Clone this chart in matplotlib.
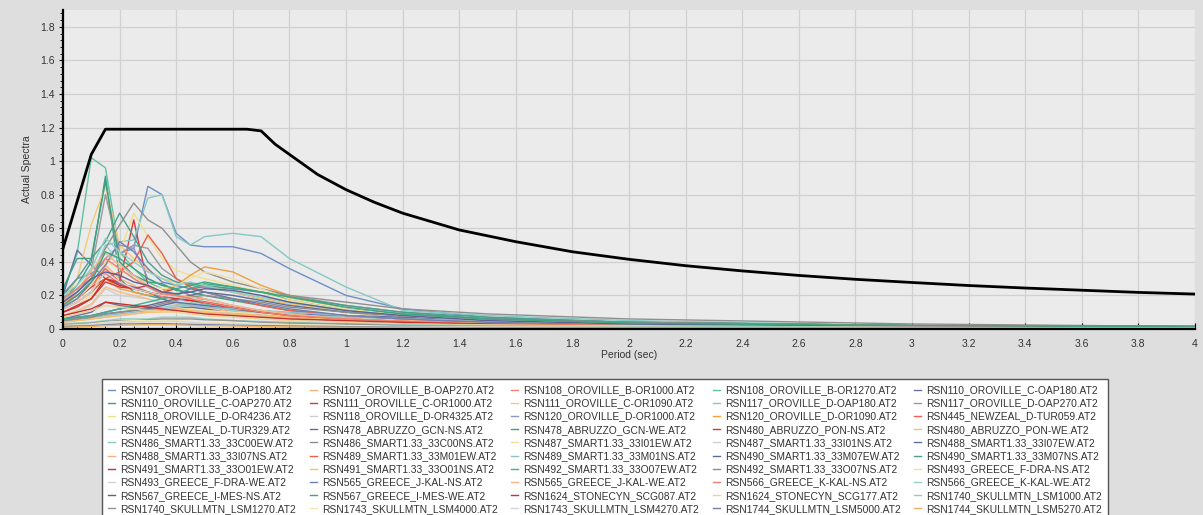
import numpy as np
import matplotlib
matplotlib.use('Agg')
import matplotlib.pyplot as plt
from matplotlib.ticker import MultipleLocator, FormatStrFormatter

plt.rcParams['font.family'] = ['Liberation Sans', 'DejaVu Sans']

# periods at which each record spectrum is listed (sec)
periods = [0, 0.05, 0.1, 0.15, 0.2, 0.25, 0.3, 0.35, 0.4, 0.45, 0.5,
           0.6, 0.7, 0.8, 1.0, 1.2, 1.5, 2.0, 3.0, 4.0]

# target (design) spectrum
target_T = [0, 0.1, 0.15, 0.2, 0.3, 0.4, 0.5, 0.6, 0.65, 0.7, 0.75, 0.8, 0.9,
            1.0, 1.1, 1.2, 1.4, 1.6, 1.8, 2.0, 2.2, 2.4, 2.6, 2.8, 3.0, 3.2,
            3.4, 3.6, 3.8, 4.0]
target_Sa = [0.48, 1.04, 1.19, 1.19, 1.19, 1.19, 1.19, 1.19, 1.19, 1.18, 1.10,
             1.04, 0.92, 0.83, 0.755, 0.69, 0.59, 0.52, 0.46, 0.415, 0.377,
             0.346, 0.319, 0.296, 0.277, 0.259, 0.244, 0.231, 0.218, 0.208]

records = [
    'RSN107_OROVILLE_B-OAP180.AT2', 'RSN107_OROVILLE_B-OAP270.AT2',
    'RSN108_OROVILLE_B-OR1000.AT2', 'RSN108_OROVILLE_B-OR1270.AT2',
    'RSN110_OROVILLE_C-OAP180.AT2', 'RSN110_OROVILLE_C-OAP270.AT2',
    'RSN111_OROVILLE_C-OR1000.AT2', 'RSN111_OROVILLE_C-OR1090.AT2',
    'RSN117_OROVILLE_D-OAP180.AT2', 'RSN117_OROVILLE_D-OAP270.AT2',
    'RSN118_OROVILLE_D-OR4236.AT2', 'RSN118_OROVILLE_D-OR4325.AT2',
    'RSN120_OROVILLE_D-OR1000.AT2', 'RSN120_OROVILLE_D-OR1090.AT2',
    'RSN445_NEWZEAL_D-TUR059.AT2', 'RSN445_NEWZEAL_D-TUR329.AT2',
    'RSN478_ABRUZZO_GCN-NS.AT2', 'RSN478_ABRUZZO_GCN-WE.AT2',
    'RSN480_ABRUZZO_PON-NS.AT2', 'RSN480_ABRUZZO_PON-WE.AT2',
    'RSN486_SMART1.33_33C00EW.AT2', 'RSN486_SMART1.33_33C00NS.AT2',
    'RSN487_SMART1.33_33I01EW.AT2', 'RSN487_SMART1.33_33I01NS.AT2',
    'RSN488_SMART1.33_33I07EW.AT2', 'RSN488_SMART1.33_33I07NS.AT2',
    'RSN489_SMART1.33_33M01EW.AT2', 'RSN489_SMART1.33_33M01NS.AT2',
    'RSN490_SMART1.33_33M07EW.AT2', 'RSN490_SMART1.33_33M07NS.AT2',
    'RSN491_SMART1.33_33O01EW.AT2', 'RSN491_SMART1.33_33O01NS.AT2',
    'RSN492_SMART1.33_33O07EW.AT2', 'RSN492_SMART1.33_33O07NS.AT2',
    'RSN493_GREECE_F-DRA-NS.AT2', 'RSN493_GREECE_F-DRA-WE.AT2',
    'RSN565_GREECE_J-KAL-NS.AT2', 'RSN565_GREECE_J-KAL-WE.AT2',
    'RSN566_GREECE_K-KAL-NS.AT2', 'RSN566_GREECE_K-KAL-WE.AT2',
    'RSN567_GREECE_I-MES-NS.AT2', 'RSN567_GREECE_I-MES-WE.AT2',
    'RSN1624_STONECYN_SCG087.AT2', 'RSN1624_STONECYN_SCG177.AT2',
    'RSN1740_SKULLMTN_LSM1000.AT2', 'RSN1740_SKULLMTN_LSM1270.AT2',
    'RSN1743_SKULLMTN_LSM4000.AT2', 'RSN1743_SKULLMTN_LSM4270.AT2',
    'RSN1744_SKULLMTN_LSM5000.AT2', 'RSN1744_SKULLMTN_LSM5270.AT2',
]

colors = [
    '#6f8fc8', '#f5b27a', '#ee7f74', '#63bfa6', '#6a72a6',
    '#3f9f8a', '#d9393a', '#f4c97a', '#86c9c4', '#9a9a9a',
    '#efe08e', '#cfcfcf', '#8c98cc', '#f0a03c', '#ef5f4e',
    '#9fd0cf', '#6e6fa0', '#3ea07f', '#cf3b3b', '#f4bf84',
    '#8ec8bf', '#8f8f8f', '#f1e2a2', '#d2d2d2', '#5f6fae',
    '#f5ae7e', '#ee5e45', '#8fbfcf', '#5e6a9c', '#4e9e8f',
    '#d02a2a', '#f4c070', '#3fb091', '#8e8e8e', '#f5dfa0',
    '#d3d3d3', '#7080b2', '#f6b683', '#ef8070', '#8fd0c6',
    '#5f5f92', '#3ea57f', '#c93131', '#f1d192', '#8ed1bf',
    '#959595', '#f3e6b0', '#d6d6d6', '#7382a4', '#efb260',
]

# spectral acceleration of each record (g), one row per record
spectra = [
    [0.21, 0.30, 0.33, 0.40, 0.45, 0.48, 0.85, 0.80, 0.57, 0.50, 0.49, 0.49, 0.45, 0.36, 0.20, 0.12, 0.07, 0.04, 0.02, 0.01],
    [0.12, 0.16, 0.22, 0.38, 0.30, 0.26, 0.22, 0.18, 0.16, 0.14, 0.12, 0.09, 0.07, 0.06, 0.04, 0.03, 0.02, 0.015, 0.01, 0.008],
    [0.15, 0.20, 0.26, 0.33, 0.27, 0.24, 0.22, 0.19, 0.18, 0.17, 0.15, 0.11, 0.09, 0.07, 0.05, 0.035, 0.025, 0.02, 0.01, 0.008],
    [0.22, 0.45, 1.02, 0.96, 0.46, 0.36, 0.28, 0.24, 0.20, 0.17, 0.15, 0.11, 0.09, 0.07, 0.05, 0.04, 0.03, 0.02, 0.01, 0.01],
    [0.20, 0.47, 0.38, 0.30, 0.27, 0.25, 0.22, 0.18, 0.15, 0.14, 0.13, 0.10, 0.08, 0.06, 0.045, 0.035, 0.025, 0.02, 0.01, 0.008],
    [0.18, 0.26, 0.40, 0.91, 0.30, 0.22, 0.20, 0.18, 0.20, 0.24, 0.25, 0.22, 0.18, 0.15, 0.10, 0.07, 0.05, 0.03, 0.02, 0.01],
    [0.14, 0.18, 0.25, 0.30, 0.28, 0.65, 0.26, 0.22, 0.24, 0.20, 0.17, 0.13, 0.10, 0.08, 0.06, 0.045, 0.03, 0.02, 0.01, 0.008],
    [0.16, 0.30, 0.62, 0.85, 0.50, 0.42, 0.35, 0.30, 0.28, 0.27, 0.26, 0.22, 0.18, 0.15, 0.10, 0.07, 0.05, 0.03, 0.02, 0.01],
    [0.16, 0.24, 0.30, 0.50, 0.52, 0.53, 0.78, 0.80, 0.55, 0.50, 0.55, 0.57, 0.55, 0.42, 0.25, 0.11, 0.08, 0.05, 0.02, 0.015],
    [0.14, 0.22, 0.35, 0.80, 0.45, 0.50, 0.48, 0.36, 0.30, 0.26, 0.25, 0.24, 0.22, 0.20, 0.14, 0.10, 0.06, 0.04, 0.02, 0.01],
    [0.10, 0.14, 0.20, 0.40, 0.45, 0.69, 0.55, 0.42, 0.35, 0.32, 0.30, 0.26, 0.22, 0.17, 0.11, 0.08, 0.05, 0.03, 0.015, 0.01],
    [0.08, 0.10, 0.14, 0.24, 0.20, 0.19, 0.18, 0.15, 0.14, 0.12, 0.11, 0.09, 0.07, 0.06, 0.04, 0.03, 0.02, 0.015, 0.01, 0.006],
    [0.16, 0.22, 0.30, 0.42, 0.50, 0.48, 0.30, 0.26, 0.24, 0.20, 0.18, 0.14, 0.11, 0.09, 0.06, 0.04, 0.03, 0.02, 0.01, 0.008],
    [0.12, 0.16, 0.22, 0.30, 0.24, 0.22, 0.20, 0.22, 0.26, 0.32, 0.37, 0.34, 0.26, 0.20, 0.12, 0.08, 0.05, 0.03, 0.015, 0.01],
    [0.15, 0.20, 0.26, 0.36, 0.28, 0.24, 0.22, 0.20, 0.18, 0.17, 0.16, 0.13, 0.11, 0.09, 0.06, 0.045, 0.03, 0.02, 0.01, 0.008],
    [0.12, 0.18, 0.30, 0.50, 0.40, 0.30, 0.25, 0.20, 0.18, 0.16, 0.14, 0.11, 0.09, 0.07, 0.05, 0.04, 0.03, 0.02, 0.01, 0.008],
    [0.06, 0.08, 0.10, 0.16, 0.14, 0.13, 0.12, 0.11, 0.12, 0.13, 0.12, 0.10, 0.08, 0.07, 0.05, 0.035, 0.025, 0.015, 0.01, 0.006],
    [0.24, 0.42, 0.42, 0.88, 0.40, 0.32, 0.28, 0.27, 0.23, 0.22, 0.20, 0.17, 0.14, 0.11, 0.08, 0.06, 0.04, 0.03, 0.015, 0.01],
    [0.10, 0.13, 0.18, 0.28, 0.25, 0.24, 0.26, 0.22, 0.20, 0.18, 0.16, 0.12, 0.10, 0.08, 0.06, 0.04, 0.03, 0.02, 0.01, 0.006],
    [0.08, 0.11, 0.15, 0.25, 0.22, 0.20, 0.18, 0.16, 0.15, 0.14, 0.13, 0.10, 0.08, 0.07, 0.05, 0.04, 0.03, 0.02, 0.01, 0.006],
    [0.05, 0.06, 0.07, 0.09, 0.10, 0.11, 0.12, 0.13, 0.14, 0.15, 0.14, 0.12, 0.10, 0.09, 0.07, 0.06, 0.045, 0.03, 0.02, 0.012],
    [0.18, 0.24, 0.30, 0.48, 0.62, 0.75, 0.65, 0.60, 0.50, 0.40, 0.34, 0.28, 0.24, 0.20, 0.16, 0.12, 0.09, 0.06, 0.03, 0.015],
    [0.04, 0.05, 0.06, 0.08, 0.09, 0.10, 0.11, 0.11, 0.12, 0.12, 0.11, 0.10, 0.09, 0.08, 0.06, 0.05, 0.04, 0.03, 0.02, 0.01],
    [0.05, 0.06, 0.07, 0.08, 0.10, 0.12, 0.13, 0.12, 0.11, 0.10, 0.09, 0.08, 0.07, 0.06, 0.05, 0.04, 0.035, 0.025, 0.015, 0.01],
    [0.05, 0.06, 0.07, 0.09, 0.10, 0.11, 0.12, 0.14, 0.16, 0.15, 0.14, 0.12, 0.10, 0.09, 0.08, 0.07, 0.05, 0.035, 0.02, 0.015],
    [0.04, 0.05, 0.06, 0.07, 0.08, 0.09, 0.10, 0.11, 0.12, 0.11, 0.10, 0.09, 0.08, 0.07, 0.06, 0.05, 0.04, 0.03, 0.02, 0.01],
    [0.12, 0.16, 0.22, 0.30, 0.34, 0.40, 0.56, 0.45, 0.30, 0.25, 0.22, 0.18, 0.14, 0.11, 0.08, 0.06, 0.04, 0.03, 0.015, 0.01],
    [0.05, 0.06, 0.07, 0.08, 0.09, 0.10, 0.11, 0.12, 0.13, 0.14, 0.13, 0.12, 0.11, 0.10, 0.08, 0.06, 0.05, 0.035, 0.02, 0.012],
    [0.06, 0.07, 0.08, 0.10, 0.12, 0.13, 0.14, 0.16, 0.18, 0.20, 0.22, 0.20, 0.17, 0.14, 0.10, 0.08, 0.06, 0.04, 0.02, 0.015],
    [0.20, 0.30, 0.42, 0.52, 0.69, 0.55, 0.40, 0.32, 0.28, 0.27, 0.26, 0.24, 0.22, 0.19, 0.14, 0.10, 0.07, 0.04, 0.02, 0.015],
    [0.10, 0.14, 0.18, 0.30, 0.26, 0.24, 0.22, 0.20, 0.18, 0.17, 0.16, 0.13, 0.10, 0.08, 0.06, 0.045, 0.03, 0.02, 0.01, 0.008],
    [0.04, 0.05, 0.06, 0.07, 0.08, 0.09, 0.10, 0.10, 0.11, 0.11, 0.10, 0.09, 0.08, 0.07, 0.05, 0.04, 0.035, 0.025, 0.015, 0.01],
    [0.06, 0.07, 0.08, 0.10, 0.12, 0.14, 0.16, 0.18, 0.20, 0.24, 0.27, 0.25, 0.22, 0.18, 0.12, 0.09, 0.06, 0.04, 0.02, 0.015],
    [0.05, 0.06, 0.07, 0.09, 0.10, 0.11, 0.13, 0.15, 0.17, 0.19, 0.20, 0.18, 0.16, 0.13, 0.10, 0.08, 0.06, 0.04, 0.02, 0.015],
    [0.14, 0.18, 0.26, 0.40, 0.36, 0.30, 0.26, 0.24, 0.26, 0.30, 0.34, 0.30, 0.24, 0.18, 0.12, 0.08, 0.05, 0.03, 0.015, 0.01],
    [0.12, 0.16, 0.22, 0.34, 0.28, 0.24, 0.22, 0.20, 0.19, 0.18, 0.17, 0.14, 0.11, 0.09, 0.06, 0.04, 0.03, 0.02, 0.01, 0.008],
    [0.13, 0.18, 0.28, 0.38, 0.52, 0.46, 0.36, 0.28, 0.26, 0.24, 0.22, 0.18, 0.15, 0.12, 0.08, 0.06, 0.04, 0.025, 0.015, 0.01],
    [0.15, 0.22, 0.35, 0.45, 0.38, 0.32, 0.26, 0.22, 0.20, 0.19, 0.18, 0.14, 0.11, 0.09, 0.06, 0.045, 0.03, 0.02, 0.01, 0.008],
    [0.18, 0.24, 0.32, 0.42, 0.36, 0.30, 0.25, 0.21, 0.20, 0.18, 0.16, 0.13, 0.10, 0.08, 0.06, 0.045, 0.03, 0.02, 0.01, 0.008],
    [0.20, 0.26, 0.36, 0.54, 0.46, 0.40, 0.34, 0.30, 0.26, 0.28, 0.26, 0.22, 0.19, 0.16, 0.11, 0.08, 0.05, 0.03, 0.015, 0.01],
    [0.16, 0.22, 0.30, 0.34, 0.32, 0.28, 0.26, 0.22, 0.21, 0.22, 0.24, 0.23, 0.20, 0.16, 0.11, 0.08, 0.05, 0.03, 0.015, 0.01],
    [0.14, 0.20, 0.28, 0.46, 0.42, 0.36, 0.30, 0.26, 0.24, 0.26, 0.28, 0.25, 0.22, 0.19, 0.13, 0.09, 0.06, 0.035, 0.02, 0.012],
    [0.08, 0.10, 0.12, 0.16, 0.15, 0.14, 0.13, 0.12, 0.11, 0.10, 0.09, 0.08, 0.07, 0.06, 0.05, 0.04, 0.03, 0.02, 0.01, 0.006],
    [0.07, 0.09, 0.11, 0.14, 0.13, 0.12, 0.11, 0.10, 0.10, 0.09, 0.08, 0.07, 0.06, 0.05, 0.04, 0.03, 0.025, 0.02, 0.01, 0.006],
    [0.03, 0.035, 0.04, 0.05, 0.06, 0.06, 0.06, 0.07, 0.07, 0.07, 0.06, 0.05, 0.045, 0.04, 0.03, 0.025, 0.02, 0.015, 0.01, 0.005],
    [0.025, 0.03, 0.035, 0.045, 0.05, 0.05, 0.055, 0.06, 0.06, 0.06, 0.055, 0.05, 0.04, 0.035, 0.03, 0.02, 0.015, 0.01, 0.007, 0.005],
    [0.02, 0.025, 0.03, 0.04, 0.045, 0.05, 0.05, 0.05, 0.05, 0.045, 0.04, 0.035, 0.03, 0.025, 0.02, 0.015, 0.012, 0.01, 0.006, 0.004],
    [0.02, 0.022, 0.025, 0.035, 0.04, 0.04, 0.045, 0.045, 0.045, 0.04, 0.035, 0.03, 0.025, 0.02, 0.015, 0.012, 0.01, 0.008, 0.005, 0.003],
    [0.015, 0.018, 0.02, 0.025, 0.03, 0.03, 0.032, 0.032, 0.03, 0.028, 0.026, 0.022, 0.02, 0.018, 0.014, 0.01, 0.008, 0.006, 0.004, 0.003],
    [0.01, 0.012, 0.015, 0.02, 0.022, 0.024, 0.025, 0.025, 0.024, 0.022, 0.02, 0.018, 0.015, 0.012, 0.01, 0.008, 0.006, 0.005, 0.004, 0.003],
]

fig = plt.figure(figsize=(12.03, 5.15), dpi=100, facecolor='#dedede')
ax = fig.add_axes([63 / 1203, 1 - 329 / 515, 1132 / 1203, 319 / 515])
ax.set_facecolor('#ebebeb')

handles = []
for name, col, sa in zip(records, colors, spectra):
    h, = ax.plot(periods, sa, color=col, lw=1.0, label=name)
    handles.append(h)

ax.plot(target_T, target_Sa, color='black', lw=2.0, zorder=10)

ax.set_xlim(0, 4)
ax.set_ylim(0, 1.9)
ax.xaxis.set_major_locator(MultipleLocator(0.2))
ax.xaxis.set_minor_locator(MultipleLocator(0.05))
ax.yaxis.set_major_locator(MultipleLocator(0.2))
ax.yaxis.set_minor_locator(MultipleLocator(0.04))
ax.xaxis.set_major_formatter(FormatStrFormatter('%g'))
ax.yaxis.set_major_formatter(FormatStrFormatter('%g'))
ax.grid(True, which='major', color='#d0d0d0', lw=0.9)
ax.set_axisbelow(True)

for side in ('top', 'right'):
    ax.spines[side].set_visible(False)
for side in ('left', 'bottom'):
    ax.spines[side].set_linewidth(1.6)
    ax.spines[side].set_color('black')
    ax.spines[side].set_zorder(12)

ax.tick_params(axis='x', which='both', direction='in', labelsize=7.5,
               labelcolor='#333333', pad=7)
ax.tick_params(axis='x', which='major', length=4)
ax.tick_params(axis='x', which='minor', length=2.5)
ax.tick_params(axis='y', which='both', direction='out', labelsize=7.5,
               labelcolor='#333333', pad=3)
ax.tick_params(axis='y', which='major', length=3)
ax.tick_params(axis='y', which='minor', length=2)

ax.set_xlabel('Period (sec)', fontsize=7.5, color='#333333', labelpad=1)
ax.set_ylabel('Actual Spectra', fontsize=7.5, color='#333333', labelpad=6)

# legend filled row by row, 5 per row
ncol = 5
nrow = int(np.ceil(len(handles) / ncol))
order = [r * ncol + c for c in range(ncol) for r in range(nrow)
         if r * ncol + c < len(handles)]
leg = fig.legend([handles[i] for i in order], [records[i] for i in order],
                 loc='upper left', bbox_to_anchor=(102 / 1203, 1 - 379 / 515),
                 bbox_transform=fig.transFigure, ncol=ncol, fontsize=7.4,
                 frameon=True, fancybox=False, edgecolor='#555555',
                 facecolor='white', framealpha=1, handlelength=0.7,
                 handletextpad=0.5, columnspacing=1.3, labelspacing=0.31,
                 borderpad=0.6, borderaxespad=0)
for t in leg.get_texts():
    t.set_color('#333333')

fig.savefig('out.png', dpi=100, facecolor=fig.get_facecolor())
